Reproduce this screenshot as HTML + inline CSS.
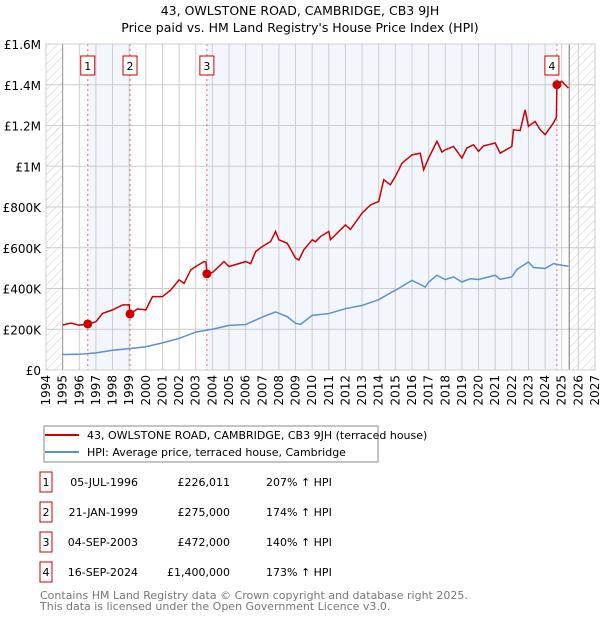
<!DOCTYPE html>
<html><head><meta charset="utf-8"><style>
body{margin:0;background:#fff;font-family:"Liberation Sans","DejaVu Sans",sans-serif;}
svg text{font-family:"DejaVu Sans","Liberation Sans",sans-serif;}
</style></head><body>
<svg id="c" width="600" height="620" xmlns="http://www.w3.org/2000/svg">
<defs><pattern id="hatch" width="6" height="6" patternUnits="userSpaceOnUse" patternTransform="rotate(45)"><line x1="0" y1="0" x2="0" y2="6" stroke="#ccc" stroke-width="1"/></pattern></defs>
<text x="300" y="15" text-anchor="middle" font-size="12.5">43, OWLSTONE ROAD, CAMBRIDGE, CB3 9JH</text>
<text x="300" y="32" text-anchor="middle" font-size="12.5">Price paid vs. HM Land Registry's House Price Index (HPI)</text>
<g id="plot"></g>
<rect x="44" y="426" width="334" height="36" fill="#fff" stroke="#888"/>
<line x1="45" y1="435" x2="79" y2="435" stroke="#cc0000" stroke-width="2"/>
<text x="87" y="439" font-size="11">43, OWLSTONE ROAD, CAMBRIDGE, CB3 9JH (terraced house)</text>
<line x1="45" y1="452" x2="79" y2="452" stroke="#5b8fd6" stroke-width="2"/>
<text x="87" y="456" font-size="11">HPI: Average price, terraced house, Cambridge</text>
<g id="table" font-size="11"></g>
<text x="40" y="599" font-size="11" fill="#777">Contains HM Land Registry data © Crown copyright and database right 2025.</text>
<text x="40" y="610" font-size="11" fill="#777">This data is licensed under the Open Government Licence v3.0.</text>
</svg>
<script>
const hpiYears=[1995,1996,1997,1998,1999,2000,2001,2002,2003,2004,2005,2006,2007,2007.8,2008.5,2009,2009.3,2010,2011,2012,2013,2014,2014.8,2015,2016,2016.8,2017,2017.5,2018,2018.5,2019,2019.5,2020,2021,2021.3,2022,2022.3,2023,2023.3,2024,2024.5,2025,2025.4];
const hpiValues=[76,77,84,97,105,114,133,155,186,200,219,223,260,285,262,229,224,268,277,301,317,345,383,391,440,407,432,465,444,457,432,448,444,465,445,457,493,530,503,498,522,514,510];
const priceYears=[1995,1995.5,1996,1996.51,1997,1997.4,1998,1998.6,1999.0,1999.05,1999.5,2000,2000.4,2001,2001.5,2002,2002.3,2002.7,2003,2003.5,2003.62,2003.67,2004,2004.7,2005,2006,2006.3,2006.6,2007,2007.5,2007.8,2008,2008.5,2009,2009.2,2009.5,2010,2010.2,2010.5,2011,2011.1,2012,2012.3,2013,2013.5,2014,2014.3,2014.7,2015,2015.4,2016,2016.5,2016.7,2017,2017.5,2017.8,2018,2018.5,2019,2019.3,2019.7,2020,2020.3,2021,2021.3,2022,2022.1,2022.5,2022.8,2023,2023.4,2023.7,2024,2024.5,2024.68,2024.71,2025,2025.4];
const priceValues=[221,230,220,226,237,278,295,319,320,275,300,295,360,360,393,442,425,491,508,532,530,472,478,532,508,532,522,581,606,630,680,639,622,549,540,590,639,630,655,680,640,712,690,770,810,827,934,909,950,1015,1056,1064,983,1040,1122,1070,1081,1097,1040,1090,1105,1073,1100,1114,1064,1097,1179,1175,1277,1196,1220,1180,1155,1212,1240,1400,1417,1384];
const saleYears=[1996.51,1999.05,2003.67,2024.71];
const saleValues=[226.011,275,472,1400];
const saleLabels=["1","2","3","4"];
const saleDates=["05-JUL-1996","21-JAN-1999","04-SEP-2003","16-SEP-2024"];
const salePrices=["£226,011","£275,000","£472,000","£1,400,000"];
const saleHpi=["207% ↑ HPI","174% ↑ HPI","140% ↑ HPI","173% ↑ HPI"];
const yTicks=[0,200,400,600,800,1000,1200,1400,1600];
const yTickLabels=["£0","£200K","£400K","£600K","£800K","£1M","£1.2M","£1.4M","£1.6M"];
const xTicks=[1994,1995,1996,1997,1998,1999,2000,2001,2002,2003,2004,2005,2006,2007,2008,2009,2010,2011,2012,2013,2014,2015,2016,2017,2018,2019,2020,2021,2022,2023,2024,2025,2026,2027];

const NS="http://www.w3.org/2000/svg";
const X0=46,X1=595,Y0=370,Y1=44;
const xs=y=>X0+(y-1994)/(2027-1994)*(X1-X0);
const ys=v=>Y0-v/1600*(Y0-Y1);
const plot=document.getElementById('plot');
function mk(tag,attrs,parent){const e=document.createElementNS(NS,tag);for(const k in attrs)e.setAttribute(k,attrs[k]);(parent||plot).appendChild(e);return e;}

let e;
e=mk('rect',{x:X0,y:Y1,width:X1-X0,height:Y0-Y1,fill:'#fff'});


e=mk('rect',{x:xs(saleYears[0]),y:Y1,width:xs(saleYears[1])-xs(saleYears[0]),height:Y0-Y1,fill:'#eef3fc',opacity:0.7});


e=mk('rect',{x:xs(saleYears[2]),y:Y1,width:xs(saleYears[3])-xs(saleYears[2]),height:Y0-Y1,fill:'#eef3fc',opacity:0.7});


e=mk('rect',{x:X0,y:Y1,width:xs(1995)-X0,height:Y0-Y1,fill:'url(#hatch)'});


e=mk('rect',{x:xs(2025.45),y:Y1,width:X1-xs(2025.45),height:Y0-Y1,fill:'url(#hatch)'});


yTicks.forEach((t,i)=>{
  e=mk('line',{x1:X0,x2:X1,y1:ys(t),y2:ys(t),stroke:'#ccc','stroke-width':1});
  
  
  e=mk('text',{x:41,y:ys(t)+5,'text-anchor':'end','font-size':12});
  e.textContent=yTickLabels[i];
  
  
});
xTicks.forEach(t=>{
  e=mk('line',{x1:xs(t),x2:xs(t),y1:Y1,y2:Y0,stroke:'#ccc','stroke-width':1});
  
  
  e=mk('text',{x:0,y:0,'text-anchor':'end','font-size':12,transform:`translate(${xs(t)+4},${Y0+5}) rotate(-90)`});
  e.textContent=t;
  
  
});
e=mk('line',{x1:xs(1995),x2:xs(1995),y1:Y1,y2:Y0,stroke:'#999','stroke-width':1});


e=mk('line',{x1:xs(2025.45),x2:xs(2025.45),y1:Y1,y2:Y0,stroke:'#777','stroke-width':1});


saleYears.forEach((s,i)=>{
  e=mk('line',{x1:xs(s),x2:xs(s),y1:Y1,y2:Y0,stroke:'#e66','stroke-width':1,'stroke-dasharray':'2,3'});
  
  
});
e=mk('polyline',{points:hpiYears.map((y,i)=>xs(y)+','+ys(hpiValues[i])).join(' '),fill:'none',stroke:'#5b8fd6','stroke-width':1.5});


e=mk('polyline',{points:priceYears.map((y,i)=>xs(y)+','+ys(priceValues[i])).join(' '),fill:'none',stroke:'#cc0000','stroke-width':1.5});


saleYears.forEach((s,i)=>{
  e=mk('circle',{cx:xs(s),cy:ys(saleValues[i]),r:4.5,fill:'#cc0000'});
  
  
  const bx=xs(s)-(i==3?9:4)-3;
  e=mk('rect',{x:bx,y:56,width:14,height:19,fill:'#fff',stroke:'#cc0000','stroke-width':1});
  
  
  e=mk('text',{x:bx+7,y:70,'text-anchor':'middle','font-size':11});
  e.textContent=saleLabels[i];
  
  
});
e=mk('rect',{x:X0,y:Y1,width:X1-X0,height:Y0-Y1,fill:'none',stroke:'#ccc'});



const tb=document.getElementById('table');
saleLabels.forEach((l,i)=>{
  const cy=482+i*30;
  e=mk('rect',{x:40,y:cy-10,width:12,height:20,fill:'#fff',stroke:'#cc0000'},tb);
  
  
  e=mk('text',{x:46,y:cy+4,'text-anchor':'middle'},tb);e.textContent=l;
  
  
  e=mk('text',{x:138,y:cy+4,'text-anchor':'end'},tb);e.textContent=saleDates[i];
  
  
  e=mk('text',{x:230,y:cy+4,'text-anchor':'end'},tb);e.textContent=salePrices[i];
  
  
  e=mk('text',{x:266,y:cy+4},tb);e.textContent=saleHpi[i];
  
  
});
</script>
</body></html>
